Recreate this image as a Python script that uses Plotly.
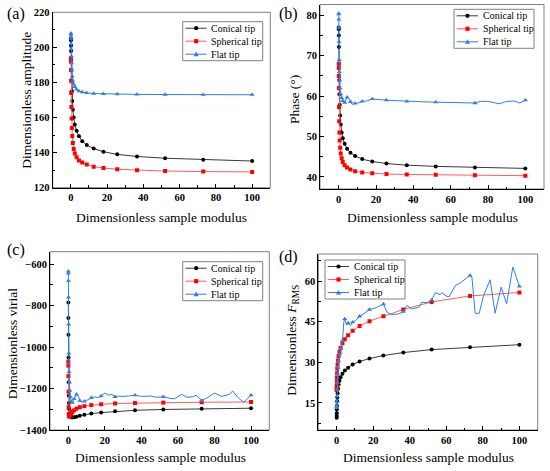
import plotly.graph_objects as go

# common sample-modulus grid (markers are drawn on these points)
tip_x = [0.05, 0.07, 0.1, 0.14, 0.2, 0.28, 0.4, 0.56, 0.8, 1.1, 1.6, 2.2, 3.2, 4.5,
         6.3, 8.8, 12.6, 18, 25.6, 36.5, 52, 73, 100]

# (a) amplitude
amp_conical = [205, 204, 201, 198, 193, 187, 181, 175, 169.5, 164.5, 160, 156, 152.5,
               149.3, 146.5, 144.3, 142.3, 140.5, 139, 137.8, 136.8, 136, 135.2]
amp_spherical = [194, 192, 187, 181, 174, 166, 159.5, 154, 149.5, 145.5, 142, 139.5,
                 137.3, 135.5, 134.3, 133.2, 132, 131.2, 130.5, 130, 129.5, 129.2, 129]
amp_flat = [208, 207, 205, 202, 199, 195, 191, 187, 183.5, 181, 179, 177.5, 176, 175,
            174.5, 174, 173.7, 173.5, 173.3, 173.2, 173.1, 173, 173]

# (b) phase
phase_conical = [77, 76.6, 75, 72.2, 68, 64, 60.5, 57.8, 55.2, 53, 51, 49.6, 48.2, 47,
                 46, 45.2, 44.4, 43.8, 43.3, 42.9, 42.6, 42.3, 42.1]
phase_spherical = [68, 67, 65, 62, 57.3, 53.8, 51, 49, 47.2, 45.8, 44.6, 43.7, 42.9,
                   42.3, 41.8, 41.4, 41.1, 40.9, 40.7, 40.6, 40.5, 40.4, 40.3]
phase_flat_x = [0.05, 0.07, 0.1, 0.14, 0.2, 0.28, 0.4, 0.56, 0.8, 1.1, 1.6, 2.2, 3.2,
                4.5, 5.5, 6.3, 7.2, 8.8, 10.5, 12.6, 15, 18, 20, 25.6, 30, 36.5, 45,
                52, 60, 66, 73, 76, 80, 84, 86, 90, 94, 97, 100]
phase_flat = [80.5, 80.3, 79, 77, 73.5, 69, 66, 64, 62, 60.5, 59.6, 58.8, 58.4, 59.7,
              59.4, 58.6, 58, 58.2, 58.3, 58.7, 58.8, 59.3, 59.2, 59, 58.9, 58.7, 58.6,
              58.5, 58.4, 58.3, 58.3, 58.7, 58.7, 58.3, 58.1, 58.7, 58.8, 58.3, 59]

# (c) virial
vir_conical = [-785, -860, -940, -1050, -1170, -1235, -1270, -1300, -1320, -1332, -1338,
               -1340, -1339, -1336, -1331, -1326, -1321, -1316, -1310, -1305, -1301,
               -1298, -1295]
vir_spherical = [-1070, -1090, -1140, -1215, -1290, -1322, -1333, -1335, -1332, -1327,
                 -1320, -1313, -1305, -1297, -1290, -1285, -1280, -1276, -1272, -1270,
                 -1268, -1266, -1265]
vir_flat_x = [0.05, 0.07, 0.1, 0.14, 0.2, 0.28, 0.4, 0.56, 0.8, 1.1, 1.6, 2.2, 3.2, 4.5,
              5.5, 6.3, 7.5, 8.8, 10.5, 12.6, 14.5, 16, 18, 20, 22, 24, 25.6, 27, 30,
              33, 36.5, 40, 45, 48, 52, 55, 58, 62, 65, 68, 70, 73, 76, 80, 84, 88,
              90, 93, 96, 98, 100]
vir_flat = [-635, -645, -680, -760, -890, -1030, -1120, -1170, -1210, -1240, -1262,
            -1268, -1250, -1228, -1235, -1258, -1266, -1262, -1255, -1245, -1240,
            -1244, -1236, -1222, -1232, -1228, -1240, -1236, -1238, -1236, -1232,
            -1238, -1236, -1242, -1240, -1246, -1250, -1228, -1242, -1240, -1232,
            -1258, -1245, -1222, -1238, -1228, -1212, -1245, -1266, -1250, -1232]

# (d) F_RMS
frms_conical = [9.5, 10.2, 11.2, 12.6, 14, 15.6, 17, 18.6, 20.2, 21.8, 23.2, 24.5, 25.8,
                27, 28, 29.2, 30.3, 31.4, 32.5, 33.6, 34.7, 35.6, 36.5]
frms_spherical = [19.8, 20.3, 21.3, 22.8, 24.3, 26, 27.6, 29.2, 30.7, 32.3, 33.8, 35.3,
                  37, 38.5, 40, 41.7, 43.4, 45.2, 47, 49.5, 52.3, 54.5, 55.8]
frms_flat_x = [0.05, 0.07, 0.1, 0.14, 0.2, 0.28, 0.4, 0.56, 0.8, 1.1, 1.6, 2.2, 3.2, 4,
               4.5, 5.5, 6.3, 7.6, 8.8, 10.5, 12.6, 15, 18, 21, 25.6, 27.6, 30, 34,
               36.5, 38.5, 41, 45, 46.7, 49.5, 52, 54, 56.7, 57.6, 60.4, 61.6, 65,
               67.6, 73, 74, 75.8, 78, 80.4, 84, 86.7, 90, 93, 96.4, 100]
frms_flat = [13.2, 13.5, 14, 15.5, 17.5, 20, 22.5, 25.5, 28, 30.5, 33, 35, 38, 45, 46,
             43.8, 44.5, 43.5, 44.8, 45.5, 47, 48, 49.5, 50, 51.5, 48.5, 47.6, 47.9,
             48.7, 51, 49.7, 50.3, 52.2, 52, 53, 55.7, 55, 55.7, 54.3, 54.3, 58.4,
             59.3, 62.1, 61.5, 48.1, 48.1, 54.7, 60.5, 48.1, 57.8, 51.6, 65.2, 58]

names = ['Conical tip', 'Spherical tip', 'Flat tip']

W, H = 550, 471
serif = 'Liberation Serif'
styles = {
    'Conical tip': dict(line='#3a3a3a', marker='#000000', symbol='circle', size=4),
    'Spherical tip': dict(line='#ff5c5c', marker='#ff0000', symbol='square', size=4),
    'Flat tip': dict(line='#2f7fe6', marker='#2f7fe6', symbol='triangle-up', size=4.5),
}

fig = go.Figure()


def px(x, y):
    return x / W, 1 - y / H


def add_series(n, x, y, name):
    st = styles[name]
    xa, ya = ('x', 'y') if n == 1 else (f'x{n}', f'y{n}')
    line = dict(color=st['line'], width=1)
    marker = dict(color=st['marker'], symbol=st['symbol'], size=st['size'])
    # line through all points, markers only on the common grid
    mx = [a for a in x if a in tip_x]
    my = [b for a, b in zip(x, y) if a in tip_x]
    fig.add_trace(go.Scatter(x=x, y=y, mode='lines', line=line, name=name,
                             xaxis=xa, yaxis=ya, hoverinfo='skip'))
    fig.add_trace(go.Scatter(x=mx, y=my, mode='markers', marker=marker, name=name,
                             xaxis=xa, yaxis=ya))


def add_key(left, top, width=80):
    # boxed key drawn in paper space (Origin-style compact legend)
    x0, y0 = px(left, top)
    x1, y1 = px(left + width, top + 39)
    fig.add_shape(type='rect', xref='paper', yref='paper', x0=x0, y0=y0, x1=x1, y1=y1,
                  line=dict(color='#808080', width=1), fillcolor='white', layer='above')
    for k, name in enumerate(names):
        st = styles[name]
        yc = top + 6.5 + 13 * k
        a, b = px(left + 2.7, yc)
        c, _ = px(left + 24, yc)
        fig.add_shape(type='line', xref='paper', yref='paper', x0=a, x1=c, y0=b, y1=b,
                      line=dict(color=st['line'], width=1), layer='above')
        mxc = left + 13.5
        r = 2.1
        if st['symbol'] in ('circle', 'square'):
            p0, q0 = px(mxc - r, yc - r)
            p1, q1 = px(mxc + r, yc + r)
            fig.add_shape(type='circle' if st['symbol'] == 'circle' else 'rect',
                          xref='paper', yref='paper', x0=p0, y0=q0, x1=p1, y1=q1,
                          fillcolor=st['marker'], line_width=0, layer='above')
        else:
            pa = px(mxc, yc - 2.6)
            pb = px(mxc - 2.6, yc + 2)
            pc = px(mxc + 2.6, yc + 2)
            path = f'M {pa[0]},{pa[1]} L {pb[0]},{pb[1]} L {pc[0]},{pc[1]} Z'
            fig.add_shape(type='path', xref='paper', yref='paper', path=path,
                          fillcolor=st['marker'], line_width=0, layer='above')
        tx, ty = px(left + 26.5, yc)
        fig.add_annotation(text=name, x=tx, y=ty, xref='paper', yref='paper',
                           xanchor='left', yanchor='middle', showarrow=False,
                           font=dict(family=serif, size=10, color='black'))


# plot boxes in page pixels: left, top, right, bottom
panels = [
    dict(series=[(tip_x, amp_conical), (tip_x, amp_spherical), (tip_x, amp_flat)],
         box=(52.7, 12.3, 270.3, 187.7), yrange=[120, 220], dtick=20, minor=10,
         key=(182.7, 21.7)),
    dict(series=[(tip_x, phase_conical), (tip_x, phase_spherical), (phase_flat_x, phase_flat)],
         box=(320, 4.5, 544, 189), yrange=[37, 82.7], dtick=10, minor=5,
         key=(454, 9.3)),
    dict(series=[(tip_x, vir_conical), (tip_x, vir_spherical), (vir_flat_x, vir_flat)],
         box=(50, 251.7, 269.3, 430), yrange=[-1400, -540], dtick=200, minor=100,
         key=(182.7, 261.7)),
    dict(series=[(tip_x, frms_conical), (tip_x, frms_spherical), (frms_flat_x, frms_flat)],
         box=(318.3, 254, 537.7, 430), yrange=[5, 70], dtick=15, minor=7.5,
         key=(325, 260)),
]

tickfont = dict(family=serif, size=10.5, color='black', weight='bold')
layout = {}
for i, p in enumerate(panels, start=1):
    for (x, y), name in zip(p['series'], names):
        add_series(i, x, y, name)
    sx = '' if i == 1 else str(i)
    l, t, r, b = p['box']
    x0, y1 = px(l, t)
    x1, y0 = px(r, b)
    layout[f'xaxis{sx}'] = dict(
        domain=[x0, x1], anchor=f'y{sx}', range=[-10, 110], dtick=20, tick0=0,
        ticks='inside', ticklen=4, tickcolor='black', showline=True, linecolor='black',
        linewidth=1, showgrid=False, zeroline=False, tickfont=tickfont, automargin=False,
        minor=dict(dtick=10, tick0=0, ticks='inside', ticklen=2.5, tickcolor='black'))
    layout[f'yaxis{sx}'] = dict(
        domain=[y0, y1], anchor=f'x{sx}', range=p['yrange'], dtick=p['dtick'],
        tick0=0, ticks='inside', ticklen=4, tickcolor='black', showline=True,
        linecolor='black', linewidth=1, showgrid=False, zeroline=False,
        tickfont=tickfont, automargin=False,
        minor=dict(dtick=p['minor'], tick0=0, ticks='inside', ticklen=2.5,
                   tickcolor='black'))
    fig.add_shape(type='rect', xref=f'x{sx} domain', yref=f'y{sx} domain', x0=0, x1=1,
                  y0=0, y1=1, line=dict(color='#808080', width=1), layer='below')
    add_key(*p['key'])

label_font = dict(family=serif, size=16, color='black')
title_font = dict(family=serif, size=13.5, color='black')
texts = [
    # panel labels
    ('(a)', 16, 14, 0, label_font),
    ('(b)', 288, 14, 0, label_font),
    ('(c)', 16, 250, 0, label_font),
    ('(d)', 288, 257, 0, label_font),
    # axis titles
    ('Dimensionless sample modulus', 161.5, 217, 0, title_font),
    ('Dimensionless sample modulus', 432, 217, 0, title_font),
    ('Dimensionless sample modulus', 160, 457, 0, title_font),
    ('Dimensionless sample modulus', 428, 457, 0, title_font),
    ('Dimensionless amplitude', 26.7, 100, -90, title_font),
    ('Phase (°)', 295, 100, -90, title_font),
    ('Dimensionless virial', 12.3, 343, -90, title_font),
    ('Dimensionless <i>F</i><sub>RMS</sub>', 291.7, 340, -90, title_font),
]
for text, x, y, angle, font in texts:
    ax, ay = px(x, y)
    fig.add_annotation(text=text, x=ax, y=ay, xref='paper', yref='paper',
                       xanchor='center', yanchor='middle', textangle=angle,
                       showarrow=False, font=font)

fig.update_layout(
    width=W, height=H, margin=dict(l=0, r=0, t=0, b=0),
    paper_bgcolor='white', plot_bgcolor='white', showlegend=False, **layout)

# drop the browser's default 8px body margin so the figure fills the window
fig.write_html('out.html', config={'displayModeBar': False},
               post_script="document.body.style.margin = '0';")
